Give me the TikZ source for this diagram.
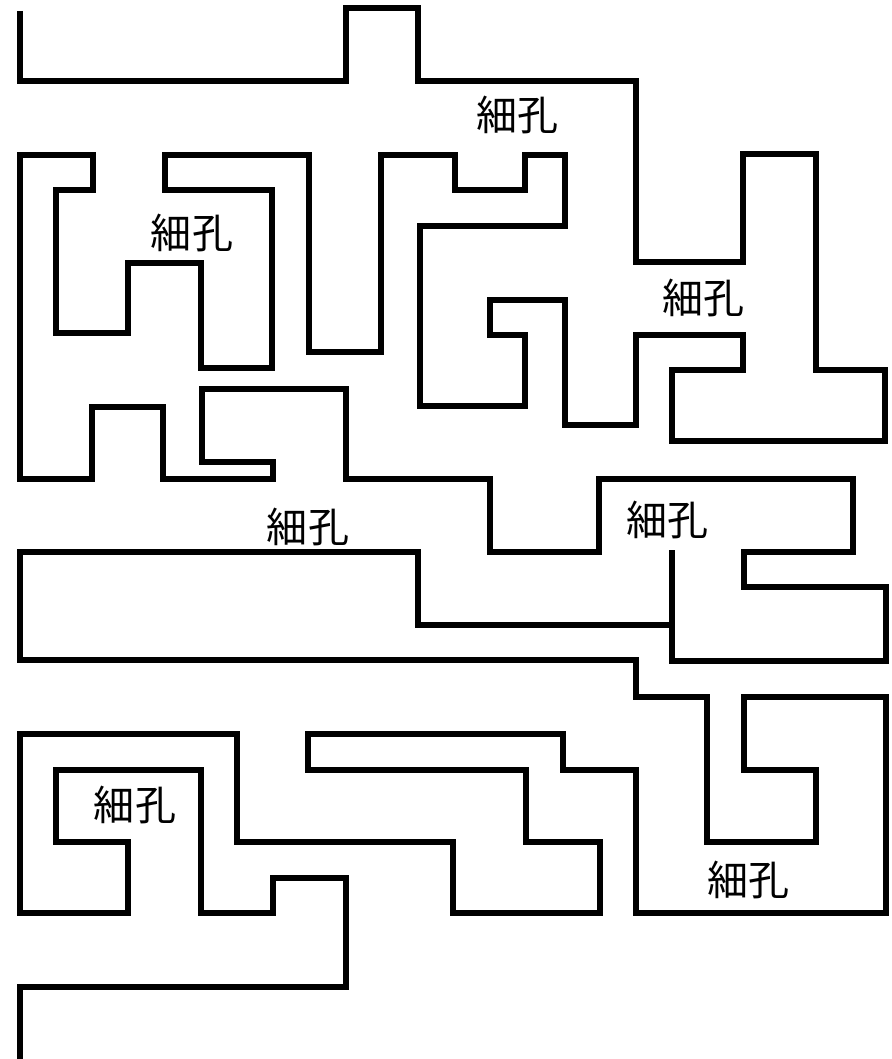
\documentclass[tikz,border=0pt]{standalone}
\usepackage{fontspec}
\newfontfamily\jpfont{Noto Sans CJK JP}
\begin{document}
\begin{tikzpicture}[x=0.3mm,y=-0.3mm,inner sep=0mm,wall/.style={draw=black,line width=5.1pt,line join=miter},
				pore/.style={font=\jpfont\fontsize{35}{35}\selectfont}]
				
				\useasboundingbox (0,0) rectangle (891,1059);
				
				\draw[wall] (20,11) -- (20,81) -- (346,81) -- (346,8) -- (418,8) -- (418,81) -- (636,81) -- (636,262) -- (743,262) -- (743,154)
					-- (816,154) -- (816,370) -- (885,370) -- (885,441) -- (672,441) -- (672,370) -- (743,370) -- (743,335) -- (636,335)
					-- (636,425) -- (565,425) -- (565,300) -- (490,300) -- (490,335) -- (525,335) -- (525,406) -- (420,406) -- (420,226)
					-- (565,226) -- (565,155) -- (525,155) -- (525,190) -- (455,190) -- (455,155) -- (381,155) -- (381,352) -- (309,352)
					-- (309,155) -- (165,155) -- (165,190) -- (272,190) -- (272,368) -- (201,368) -- (201,263) -- (128,263) -- (128,333)
					-- (56,333) -- (56,190) -- (93,190) -- (93,155) -- (20,155) -- (20,479) -- (92,479) -- (92,407) -- (163,407) -- (163,479)
					-- (273,479) -- (273,462) -- (202,462) -- (202,389) -- (346,389) -- (346,479) -- (490,479) -- (490,552) -- (599,552)
					-- (599,479) -- (853,479) -- (853,552) -- (744,552) -- (744,587) -- (886,587) -- (886,661) -- (672,661) -- (672,550);
				
				\draw[wall] (672,625) -- (418,625) -- (418,552) -- (20,552) -- (20,660) -- (636,660) -- (636,697) -- (707,697) -- (707,842)
					-- (816,842) -- (816,770) -- (744,770) -- (744,697) -- (886,697) -- (886,913) -- (636,913) -- (636,770) -- (563,770)
					-- (563,734) -- (308,734) -- (308,770) -- (526,770) -- (526,842) -- (600,842) -- (600,913) -- (453,913) -- (453,842)
					-- (237,842) -- (237,734) -- (20,734) -- (20,913) -- (128,913) -- (128,842) -- (56,842) -- (56,770) -- (201,770)
					-- (201,913) -- (273,913) -- (273,878) -- (346,878) -- (346,987) -- (20,987) -- (20,1059);
				
				\foreach \x/\y [count=\n] in {517/115,192/233,703/298,308/527,667/520,135/805,748/880}{
					\node[pore] (pore\n) at (\x,\y) {細孔};
				};
				
			\end{tikzpicture}
\end{document}
